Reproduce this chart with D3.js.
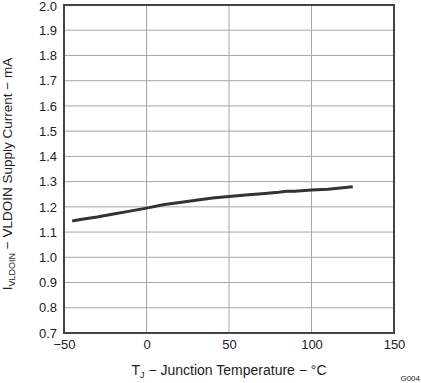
<!DOCTYPE html>
<html>
<head>
<meta charset="utf-8">
<script src="https://cdn.jsdelivr.net/npm/d3@7"></script>
<style>
  body { margin: 0; background: white; }
  text { font-family: "Liberation Sans", Arial, sans-serif; fill: #222; }
</style>
</head>
<body>
<div id="chart"></div>
<script>
const temps = [-45, -40, -30, -20, -10, 0, 10, 20, 30, 40, 50, 60, 70, 80, 85, 90, 100, 110, 125];
const current = [1.144, 1.150, 1.160, 1.172, 1.183, 1.195, 1.208, 1.217, 1.226, 1.235, 1.241, 1.247, 1.252, 1.258, 1.262, 1.262, 1.267, 1.270, 1.280];
const xTicks = [-50, 0, 50, 100, 150];
const yTicks = [0.7, 0.8, 0.9, 1.0, 1.1, 1.2, 1.3, 1.4, 1.5, 1.6, 1.7, 1.8, 1.9, 2.0];

const W = 421, H = 383;
const MARGIN = { TOP: 5, BOTTOM: 50, LEFT: 64, RIGHT: 27 };

const svg = d3.select("#chart").append("svg")
  .attr("width", W).attr("height", H);

const x = d3.scaleLinear().domain([-50, 150]).range([MARGIN.LEFT, W - MARGIN.RIGHT]);
const y = d3.scaleLinear().domain([0.7, 2.0]).range([H - MARGIN.BOTTOM, MARGIN.TOP]);

// grid
svg.append("g").selectAll("line").data(yTicks).join("line")
  .attr("x1", x(-50)).attr("x2", x(150))
  .attr("y1", d => y(d)).attr("y2", d => y(d))
  .attr("stroke", "#a8a8a8").attr("stroke-width", 1);
svg.append("g").selectAll("line").data(xTicks).join("line")
  .attr("x1", d => x(d)).attr("x2", d => x(d))
  .attr("y1", y(0.7)).attr("y2", y(2.0))
  .attr("stroke", "#a8a8a8").attr("stroke-width", 1);

// axes (labels only)
const xAxis = svg.append("g")
  .attr("transform", `translate(0, ${y(0.7)})`)
  .call(d3.axisBottom(x).tickValues(xTicks).tickSize(0).tickPadding(7)
    .tickFormat(d => d < 0 ? "\u2212" + Math.abs(d) : d));
const yAxis = svg.append("g")
  .attr("transform", `translate(${x(-50)}, 0)`)
  .call(d3.axisLeft(y).tickValues(yTicks).tickSize(0).tickPadding(7).tickFormat(d3.format(".1f")));
[xAxis, yAxis].forEach(a => {
  a.select(".domain").remove();
  a.selectAll("text").attr("font-size", 13).attr("fill", "#222")
    .attr("font-family", "'Liberation Sans', Arial, sans-serif");
});
// keep top label inside the page
yAxis.selectAll(".tick text").filter(d => d === 2.0).attr("dy", "0.42em");

// frame
svg.append("rect")
  .attr("x", x(-50)).attr("y", y(2.0))
  .attr("width", x(150) - x(-50)).attr("height", y(0.7) - y(2.0))
  .attr("fill", "none").attr("stroke", "#444").attr("stroke-width", 2);

// line
const line = d3.line().x((d, i) => x(temps[i])).y(d => y(d));
svg.append("path").datum(current)
  .attr("d", line)
  .attr("fill", "none").attr("stroke", "#333").attr("stroke-width", 3);

// x title
const xt = svg.append("text")
  .attr("x", x(50)).attr("y", 375)
  .attr("text-anchor", "middle").attr("font-size", 14);
xt.append("tspan").text("T");
xt.append("tspan").attr("font-size", 9).attr("dy", 3).text("J");
xt.append("tspan").attr("dy", -3).text(" \u2212 Junction Temperature \u2212 \u00B0C");

// y title
const yt = svg.append("text")
  .attr("transform", `translate(12, ${(y(0.7) + y(2.0)) / 2 + 5}) rotate(-90)`)
  .attr("text-anchor", "middle").attr("font-size", 13.5);
yt.append("tspan").text("I");
yt.append("tspan").attr("font-size", 9).attr("dy", 3).text("VLDOIN");
yt.append("tspan").attr("dy", -3).text(" \u2212 VLDOIN Supply Current \u2212 mA");

svg.append("text")
  .attr("x", 420).attr("y", 381).attr("text-anchor", "end")
  .attr("font-size", 8).text("G004");
</script>
</body>
</html>
